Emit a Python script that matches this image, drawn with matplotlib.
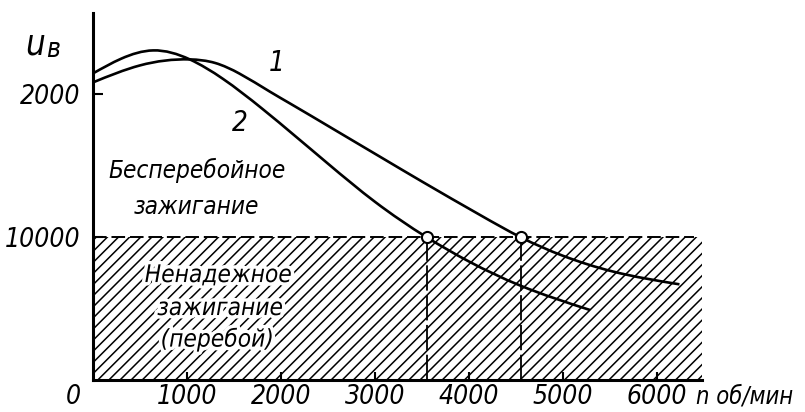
import os
import matplotlib
matplotlib.use("Agg")
import matplotlib.pyplot as plt
import matplotlib.patheffects as pe
import matplotlib.font_manager as fm
from matplotlib.path import Path
from matplotlib.patches import PathPatch
import numpy as np

# Secondary voltage u_в versus engine speed n (rev/min)
n_curve1 = [0, 500, 1030, 1300, 1560, 1880, 2100, 2550, 3050, 3500, 4120, 4550, 5000, 5530, 6240]
u_curve1 = [20840, 22030, 22450, 22200, 21450, 20200, 19350, 17600, 15650, 13900, 11550, 10000, 8700, 7600, 6700]

n_curve2 = [0, 300, 640, 1030, 1380, 1800, 2500, 3000, 3550, 4000, 4540, 5290]
u_curve2 = [21470, 22500, 23080, 22450, 21100, 19000, 15150, 12480, 10000, 8300, 6630, 4900]

u_threshold = 10000
n_limits = [3550, 4550]          # speeds where each curve reaches the threshold

x_ticks = [1000, 2000, 3000, 4000, 5000, 6000]
x_tick_labels = ["1000", "2000", "3000", "4000", "5000", "6000"]
y_ticks = [10000, 20000]
y_tick_labels = ["10000", "2000"]


def find_narrow_italic():
    wanted = ["liberationsansnarrow-italic", "dejavusanscondensed-oblique",
              "robotocondensed-italic", "opensans-condenseditalic",
              "opensanscondensed-italic", "liberationsansnarrow-regular",
              "dejavusanscondensed"]
    files = {}
    for p in fm.findSystemFonts():
        files.setdefault(os.path.splitext(os.path.basename(p))[0].lower(), p)
    for w in wanted:
        if w in files:
            return files[w]
    return None


NARROW = find_narrow_italic()


def font(size):
    if NARROW:
        return fm.FontProperties(fname=NARROW, size=size)
    return fm.FontProperties(family=["Liberation Sans", "DejaVu Sans"],
                             style="italic", size=size * 0.88)


def spline_path(xs, ys):
    """Natural cubic spline through the points, written as Bezier segments."""
    x = np.asarray(xs, float)
    y = np.asarray(ys, float)
    n = len(x)
    h = np.diff(x)
    A = np.zeros((n, n))
    b = np.zeros(n)
    A[0, 0] = A[-1, -1] = 1.0
    for i in range(1, n - 1):
        A[i, i - 1] = h[i - 1]
        A[i, i] = 2 * (h[i - 1] + h[i])
        A[i, i + 1] = h[i]
        b[i] = 6 * ((y[i + 1] - y[i]) / h[i] - (y[i] - y[i - 1]) / h[i - 1])
    M = np.linalg.solve(A, b)
    s = np.empty(n)
    s[:-1] = (y[1:] - y[:-1]) / h - h * (2 * M[:-1] + M[1:]) / 6
    s[-1] = (y[-1] - y[-2]) / h[-1] + h[-1] * (M[-2] + 2 * M[-1]) / 6
    verts = [(x[0], y[0])]
    codes = [Path.MOVETO]
    for i in range(n - 1):
        d = h[i] / 3
        verts += [(x[i] + d, y[i] + s[i] * d),
                  (x[i + 1] - d, y[i + 1] - s[i + 1] * d),
                  (x[i + 1], y[i + 1])]
        codes += [Path.CURVE4] * 3
    return Path(verts, codes)


plt.rcParams["hatch.linewidth"] = 1.1

fig = plt.figure(figsize=(8.05, 4.12), dpi=100)
ax = fig.add_axes([93 / 805, 32 / 412, 609 / 805, 367 / 412])
ax.set_xlim(0, 6480)
ax.set_ylim(0, 25700)

# unreliable-ignition zone
ax.fill_between([0, 6480], 0, u_threshold, facecolor="none", edgecolor="black",
                hatch="///", linewidth=0, zorder=1)
ax.plot([0, 6400], [u_threshold, u_threshold], color="black", lw=1.4,
        dashes=(7, 2.5), zorder=2)
for nl in n_limits:
    ax.plot([nl, nl], [0, u_threshold], color="black", lw=1.3,
            dashes=(14, 2.5), zorder=2)

for xs, ys in [(n_curve1, u_curve1), (n_curve2, u_curve2)]:
    ax.add_patch(PathPatch(spline_path(xs, ys), fill=False, edgecolor="black",
                           lw=1.9, zorder=3, capstyle="butt"))

ax.plot(n_limits, [u_threshold] * len(n_limits), "o", ms=8, mfc="white",
        mec="black", mew=1.5, zorder=4)

# axes
for side in ("top", "right"):
    ax.spines[side].set_visible(False)
for side in ("left", "bottom"):
    ax.spines[side].set_linewidth(2.2)
ax.set_xticks(x_ticks)
ax.set_xticklabels(x_tick_labels, fontproperties=font(19))
ax.set_yticks(y_ticks)
ax.set_yticklabels(y_tick_labels, fontproperties=font(19))
ax.tick_params(axis="x", direction="in", length=6, width=1.5, pad=3)
ax.tick_params(axis="y", direction="in", length=7, width=1.5, pad=9)

# origin label and axis name along n, level with the tick labels
ax.annotate("0", xy=(-210, 0), xytext=(0, -3), textcoords="offset points",
            fontproperties=font(19), ha="center", va="top",
            annotation_clip=False)
ax.annotate("n об/мин", xy=(6420, 0), xytext=(0, -3), textcoords="offset points",
            fontproperties=font(17), ha="left", va="top",
            annotation_clip=False)

# axis name u_в
ax.text(-620, 23500, "u", fontproperties=font(25), ha="center", va="center",
        clip_on=False)
ax.text(-420, 23100, "в", fontproperties=font(19), ha="center", va="center",
        clip_on=False)

ax.text(1960, 22200, "1", fontproperties=font(20), ha="center", va="center")
ax.text(1565, 18000, "2", fontproperties=font(20), ha="center", va="center")

halo = [pe.withStroke(linewidth=5, foreground="white")]
ax.text(1110, 14650, "Бесперебойное", fontproperties=font(17.5), ha="center",
        va="center")
ax.text(1100, 12100, "зажигание", fontproperties=font(17.5), ha="center",
        va="center")
ax.text(1330, 7350, "Ненадежное", fontproperties=font(17.5), ha="center",
        va="center", path_effects=halo, zorder=5)
ax.text(1350, 5040, "зажигание", fontproperties=font(17.5), ha="center",
        va="center", path_effects=halo, zorder=5)
ax.text(1320, 2870, "(перебой)", fontproperties=font(17.5), ha="center",
        va="center", path_effects=halo, zorder=5)

fig.savefig("out.png", dpi=100)
